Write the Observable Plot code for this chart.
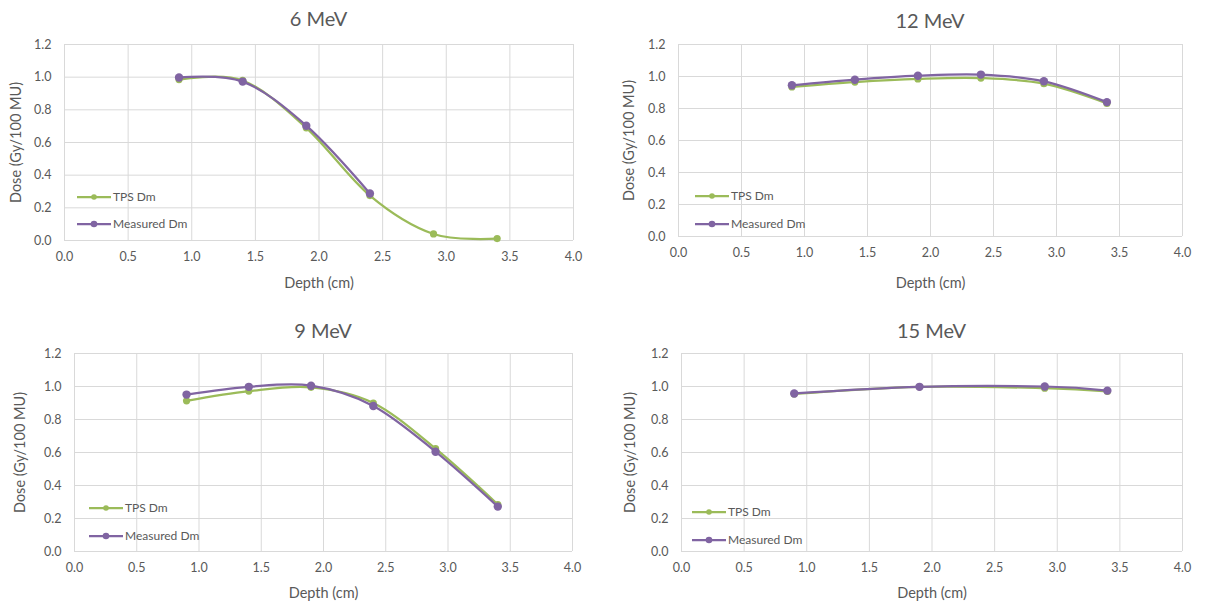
<!DOCTYPE html>
<html><head><meta charset="utf-8">
<script src="https://cdn.jsdelivr.net/npm/d3@7"></script>
<script src="https://cdn.jsdelivr.net/npm/@observablehq/plot@0.6"></script>
<style>
body{margin:0;background:#fff;font-family:Lato,"Open Sans",sans-serif;}
#wrap{position:relative;width:1208px;height:605px;overflow:hidden;background:#fff}
.panel{position:absolute}
.title{position:absolute;transform:translate(-50%,-50%);font-size:20px;color:#595959;white-space:nowrap;line-height:1}
.lg{position:absolute;display:flex;align-items:center;white-space:nowrap;transform:translateY(-50%);font-size:12px;color:#595959;line-height:1}
.lg svg{display:block;margin-right:2px}
g[aria-label="x-axis label"] text, g[aria-label="y-axis label"] text{font-size:14.5px}
</style></head><body><div id="wrap"></div>
<script>
// ---- data ----
const depths = [0.9, 1.4, 1.9, 2.4, 2.9, 3.4];
const depths15 = [0.9, 1.9, 2.9, 3.4];
const seriesNames = ["TPS Dm", "Measured Dm"];
const seriesColors = ["#9BBB59", "#8064A2"];
const energies = ["6 MeV", "12 MeV", "9 MeV", "15 MeV"];

const tps6 = [0.985, 0.980, 0.690, 0.275, 0.040, 0.012];
const meas6 = [0.998, 0.973, 0.703, 0.288];
const tps12 = [0.935, 0.965, 0.985, 0.990, 0.955, 0.832];
const meas12 = [0.945, 0.980, 1.005, 1.012, 0.970, 0.840];
const tps9 = [0.913, 0.972, 0.995, 0.900, 0.623, 0.285];
const meas9 = [0.951, 0.998, 1.005, 0.882, 0.605, 0.272];
const tps15 = [0.955, 0.998, 0.990, 0.970];
const meas15 = [0.958, 0.998, 1.000, 0.975];

const xTicks = [0, 0.5, 1.0, 1.5, 2.0, 2.5, 3.0, 3.5, 4.0];
const yTicks = [0, 0.2, 0.4, 0.6, 0.8, 1.0, 1.2];

// ---- layout (pixels) ----
const layout = [
  {left:0,   top:0,   w:604, h:302, ml:64, mr:31, mt:44, mb:62, xOff:47, yOff:54, titleY:18, lgX:77,  lgY:[197,224]},
  {left:604, top:0,   w:604, h:302, ml:74, mr:26, mt:44, mb:66, xOff:51, yOff:55, titleY:20, lgX:695, lgY:[196,224]},
  {left:0,   top:302, w:604, h:303, ml:74, mr:32, mt:51, mb:54, xOff:46, yOff:60, titleY:330, lgX:89, lgY:[508,536]},
  {left:604, top:302, w:604, h:303, ml:77, mr:26, mt:51, mb:54, xOff:46, yOff:57, titleY:330, lgX:692, lgY:[512,540]}
];

function rows(xs, tps, meas) {
  const out = [];
  tps.forEach((v, i) => out.push({depth: xs[i], dose: v, series: seriesNames[0]}));
  meas.forEach((v, i) => out.push({depth: xs[i], dose: v, series: seriesNames[1]}));
  return out;
}
const panelData = [
  rows(depths, tps6, meas6),
  rows(depths, tps12, meas12),
  rows(depths, tps9, meas9),
  rows(depths15, tps15, meas15)
];

const wrap = document.getElementById("wrap");
const fmt = d3.format(".1f");

panelData.forEach((data, k) => {
  const L = layout[k];
  const seriesMarks = [];
  seriesNames.forEach((s, j) => {
    const d = data.filter(r => r.series === s);
    seriesMarks.push(Plot.line(d, {x: "depth", y: "dose", stroke: "series", strokeWidth: 2.25, curve: "cardinal", tension: 0}));
    seriesMarks.push(Plot.dot(d, {x: "depth", y: "dose", fill: "series", r: j === 0 ? 3.6 : 4.2, stroke: "none"}));
  });
  const chart = Plot.plot({
    width: L.w, height: L.h,
    marginLeft: L.ml, marginRight: L.mr, marginTop: L.mt, marginBottom: L.mb,
    style: {color: "#595959", fontFamily: "Lato, 'Open Sans', sans-serif", fontSize: "12.5px", background: "white"},
    x: {domain: [0, 4]},
    y: {domain: [0, 1.2]},
    color: {domain: seriesNames, range: seriesColors},
    marks: [
      Plot.gridX(xTicks, {stroke: "#D9D9D9", strokeOpacity: 1, strokeWidth: 1}),
      Plot.gridY(yTicks, {stroke: "#D9D9D9", strokeOpacity: 1, strokeWidth: 1}),
      Plot.axisX(xTicks, {tickSize: 0, tickPadding: 12, tickFormat: fmt, label: "Depth (cm)", labelAnchor: "center", labelArrow: "none", labelOffset: L.xOff, fontSize: 12.5}),
      Plot.axisY(yTicks, {tickSize: 0, tickPadding: 13, tickFormat: fmt, label: "Dose (Gy/100 MU)", labelAnchor: "center", labelArrow: "none", labelOffset: L.yOff, fontSize: 12.5}),
      ...seriesMarks
    ]
  });
  chart.classList.add("panel");
  chart.style.left = L.left + "px";
  chart.style.top = L.top + "px";
  wrap.appendChild(chart);

  const t = document.createElement("div");
  t.className = "title";
  t.textContent = energies[k];
  t.style.left = (L.left + L.ml + (L.w - L.ml - L.mr) / 2) + "px";
  t.style.top = L.titleY + "px";
  wrap.appendChild(t);

  seriesNames.forEach((s, j) => {
    const row = document.createElement("div");
    row.className = "lg";
    row.style.left = L.lgX + "px";
    row.style.top = L.lgY[j] + "px";
    const r = j === 0 ? 2.8 : 3.3;
    row.innerHTML = `<svg width="34" height="10"><line x1="0" y1="5" x2="34" y2="5" stroke="${seriesColors[j]}" stroke-width="2.25"/><circle cx="17" cy="5" r="${r}" fill="${seriesColors[j]}"/></svg>`;
    const span = document.createElement("span");
    span.textContent = s;
    row.appendChild(span);
    wrap.appendChild(row);
  });
});
</script>
</body></html>
